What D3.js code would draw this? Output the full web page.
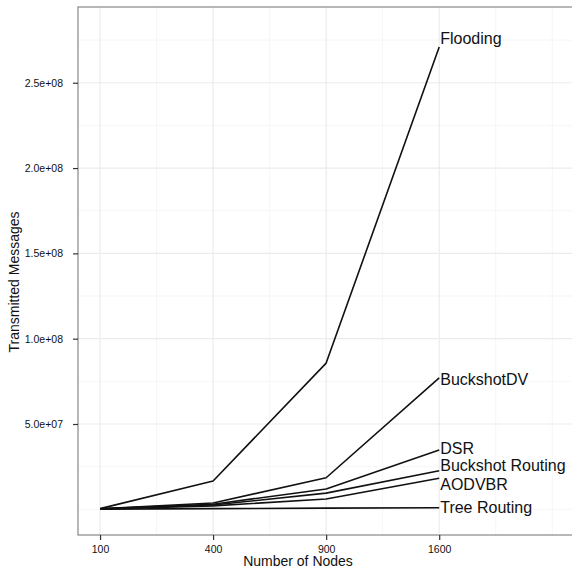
<!DOCTYPE html>
<html><head><meta charset="utf-8">
<script src="https://cdn.jsdelivr.net/npm/d3@7"></script>
<style>body{margin:0;background:#fff}svg{display:block}text{font-family:"Liberation Sans",Arial,sans-serif}</style>
</head><body><svg id="c" width="572" height="569"></svg>
<script>
const nodes = [100, 400, 900, 1600];
const seriesNames = ["Flooding","BuckshotDV","DSR","Buckshot Routing","AODVBR","Tree Routing"];
const flooding        = [0.4e6, 1.66e7, 8.57e7, 2.71e8];
const buckshotDV      = [0.3e6, 3.7e6, 1.85e7, 7.7e7];
const dsr             = [0.3e6, 3.0e6, 1.19e7, 3.48e7];
const buckshotRouting = [0.3e6, 2.5e6, 9.5e6, 2.26e7];
const aodvbr          = [0.2e6, 2.0e6, 6.0e6, 1.82e7];
const treeRouting     = [0.1e6, 0.4e6, 0.7e6, 0.9e6];
const yTicks = [5e7, 1e8, 1.5e8, 2e8, 2.5e8];
const yTickLabels = ["5.0e+07","1.0e+08","1.5e+08","2.0e+08","2.5e+08"];
const series = [flooding, buckshotDV, dsr, buckshotRouting, aodvbr, treeRouting];

const svg = d3.select("#c");
const L = 78, T = 7, R = 576, B = 535;
const x = d3.scaleLinear().domain([-0.195, 4.21]).range([L, R]);
const y = d3.scaleLinear().domain([-1.506e7, 2.944e8]).range([B, T]);

// grid
const g = svg.append("g");
const minorY = d3.range(0, 3e8, 5e7).map(v => v + 2.5e7).concat([0]);
g.selectAll(".my").data(minorY).join("line")
  .attr("x1", L).attr("x2", R).attr("y1", d => y(d)).attr("y2", d => y(d))
  .attr("stroke", "#f4f4f4").attr("stroke-width", 0.8);
g.selectAll(".mx").data([0.5,1.5,2.5,3.5,4]).join("line")
  .attr("y1", T).attr("y2", B).attr("x1", d => x(d)).attr("x2", d => x(d))
  .attr("stroke", "#f4f4f4").attr("stroke-width", 0.8);
g.selectAll(".Y").data(yTicks).join("line")
  .attr("x1", L).attr("x2", R).attr("y1", d => y(d)).attr("y2", d => y(d))
  .attr("stroke", "#ebebeb").attr("stroke-width", 1.2);
g.selectAll(".X").data(nodes.map((d,i)=>i)).join("line")
  .attr("y1", T).attr("y2", B).attr("x1", d => x(d)).attr("x2", d => x(d))
  .attr("stroke", "#ebebeb").attr("stroke-width", 1.2);

// border
svg.append("rect").attr("x", L).attr("y", T).attr("width", R - L).attr("height", B - T)
  .attr("fill", "none").attr("stroke", "#888").attr("stroke-width", 1.2);

// axes
const yAxis = d3.axisLeft(y).tickValues(yTicks).tickFormat((d,i)=>yTickLabels[i]).tickSize(5).tickPadding(10);
const ya = svg.append("g").attr("transform", `translate(${L},0)`).call(yAxis);
ya.select(".domain").remove();
ya.selectAll("line").attr("stroke", "#333").attr("stroke-width", 1.2);
ya.selectAll("text").attr("font-size", 10.5).attr("fill", "#111").attr("font-family", '"Liberation Sans",Arial,sans-serif');

const xAxis = d3.axisBottom(x).tickValues([0,1,2,3]).tickFormat(i => nodes[i]).tickSize(5).tickPadding(6);
const xa = svg.append("g").attr("transform", `translate(0,${B})`).call(xAxis);
xa.select(".domain").remove();
xa.selectAll("line").attr("stroke", "#333").attr("stroke-width", 1.2);
xa.selectAll("text").attr("font-size", 10.5).attr("fill", "#111").attr("font-family", '"Liberation Sans",Arial,sans-serif');

svg.append("text").attr("x", 298).attr("y", 566).attr("text-anchor", "middle")
  .attr("font-size", 14).attr("fill", "#111").text("Number of Nodes");
svg.append("text").attr("transform", "translate(19,282) rotate(-90)").attr("text-anchor", "middle")
  .attr("font-size", 14).attr("fill", "#111").text("Transmitted Messages");

// lines
const line = d3.line().x((d,i) => x(i)).y(d => y(d));
svg.selectAll(".s").data(series).join("path")
  .attr("d", d => line(d)).attr("fill", "none").attr("stroke", "#111")
  .attr("stroke-width", 1.6).attr("stroke-linejoin", "round");

// labels (pixel nudges for repelled label placement)
const nudge = [-9, 1, -2, -5, 6, 0];
svg.selectAll(".lab").data(series).join("text")
  .attr("x", x(3) + 1).attr("y", (d,i) => y(d[3]) + nudge[i])
  .attr("dy", "0.35em").attr("font-size", 16).attr("fill", "#111")
  .text((d,i) => seriesNames[i]);
</script></body></html>
